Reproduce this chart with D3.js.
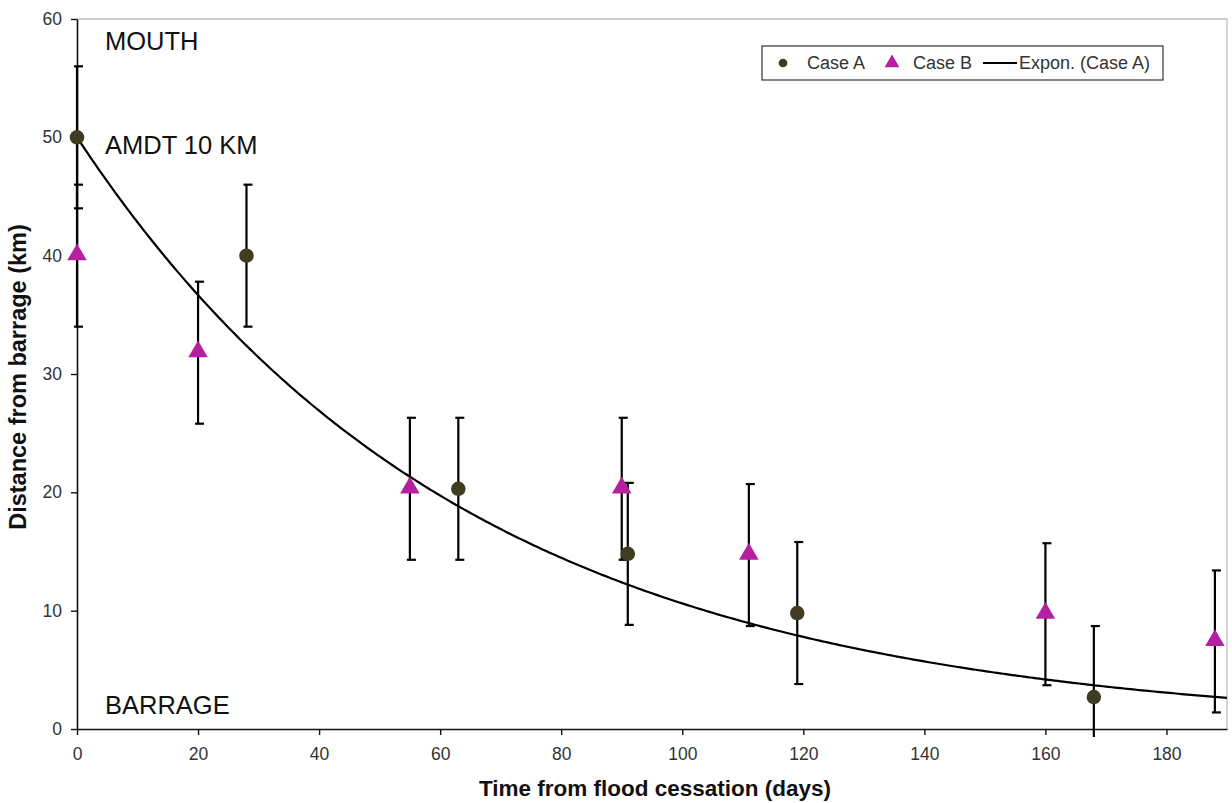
<!DOCTYPE html>
<html>
<head>
<meta charset="UTF-8">
<title>Distance from barrage</title>
<script src="https://cdn.jsdelivr.net/npm/d3@7"></script>
<style>
  body { margin: 0; background: #fff; }
  text { font-family: "Liberation Sans", Arial, sans-serif; }
</style>
</head>
<body>
<svg id="chart" width="1232" height="803"></svg>
<script>
// data
var caseAx = [0, 28, 63, 91, 119, 168];
var caseAy = [50, 40, 20.3, 14.8, 9.8, 2.7];
var caseBx = [0, 20, 55, 90, 111, 160, 188];
var caseBy = [40, 31.8, 20.3, 20.3, 14.7, 9.7, 7.4];
var errBar = 6;
// exponential trend of case A, y = a * exp(-b x)
var trendA = 50, trendB = 0.0155;
var xTicks = [0, 20, 40, 60, 80, 100, 120, 140, 160, 180];
var yTicks = [0, 10, 20, 30, 40, 50, 60];
var labels = [
  {text: "MOUTH", y: 57.4},
  {text: "AMDT 10 KM", y: 48.6},
  {text: "BARRAGE", y: 1.3}
];

var svg = d3.select("#chart");
var mLeft = 77, mRight = 1227, mTop = 19, mBottom = 729;

var x = d3.scaleLinear().domain([0, 190]).range([mLeft, mRight]);
var y = d3.scaleLinear().domain([0, 60]).range([mBottom, mTop]);

// plot frame (light top/right)
svg.append("line").attr("x1", mLeft).attr("x2", mRight).attr("y1", mTop).attr("y2", mTop)
  .attr("stroke", "#999").attr("stroke-width", 1.2);
svg.append("line").attr("x1", mRight).attr("x2", mRight).attr("y1", mTop).attr("y2", mBottom)
  .attr("stroke", "#bbb").attr("stroke-width", 1.2);

svg.append("clipPath").attr("id", "clip").append("rect")
  .attr("x", mLeft - 15).attr("y", mTop).attr("width", mRight - mLeft + 15).attr("height", mBottom - mTop + 8);

// axes
var xAxis = svg.append("g").attr("transform", "translate(0," + mBottom + ")")
  .call(d3.axisBottom(x).tickValues(xTicks).tickSize(6).tickSizeOuter(0));
var yAxis = svg.append("g").attr("transform", "translate(" + mLeft + ",0)")
  .call(d3.axisLeft(y).tickValues(yTicks).tickSize(6).tickSizeOuter(0));
[xAxis, yAxis].forEach(function(g) {
  g.select(".domain").attr("stroke", "#111").attr("stroke-width", 1.6);
  g.selectAll(".tick line").attr("stroke", "#111").attr("stroke-width", 1.4);
  g.selectAll(".tick text").attr("font-size", 17.5).attr("fill", "#333")
    .attr("font-family", "Liberation Sans, Arial, sans-serif");
});
xAxis.selectAll(".tick text").attr("dy", "1.25em");
yAxis.selectAll(".tick text").attr("x", -15);

// axis titles
svg.append("text").attr("x", 655).attr("y", 796)
  .attr("text-anchor", "middle").attr("font-size", 22.5).attr("font-weight", "bold").attr("fill", "#111")
  .text("Time from flood cessation (days)");
svg.append("text").attr("transform", "translate(26," + 377 + ") rotate(-90)")
  .attr("text-anchor", "middle").attr("font-size", 23.5).attr("font-weight", "bold").attr("fill", "#111")
  .text("Distance from barrage (km)");

// annotations
svg.selectAll(".note").data(labels).enter().append("text")
  .attr("x", 105).attr("y", function(d) { return y(d.y); })
  .attr("font-size", 25.5).attr("fill", "#111")
  .text(function(d) { return d.text; });

var plot = svg.append("g").attr("clip-path", "url(#clip)");

var ptsA = caseAx.map(function(v, i) { return {x: v, y: caseAy[i]}; });
var ptsB = caseBx.map(function(v, i) { return {x: v, y: caseBy[i]}; });

// error bars
function bars(pts) {
  var g = plot.append("g").attr("stroke", "#000").attr("stroke-width", 2.2);
  pts.forEach(function(p) {
    var xx = x(p.x);
    g.append("line").attr("x1", xx).attr("x2", xx).attr("y1", y(p.y - errBar)).attr("y2", y(p.y + errBar));
    [p.y - errBar, p.y + errBar].forEach(function(e) {
      g.append("line").attr("x1", xx - 3).attr("x2", xx + 6)
        .attr("y1", y(e)).attr("y2", y(e));
    });
  });
}
bars(ptsA);
bars(ptsB);

// trend line
var trend = d3.range(0, 190.5, 0.5).map(function(t) { return {x: t, y: trendA * Math.exp(-trendB * t)}; });
plot.append("path").datum(trend)
  .attr("fill", "none").attr("stroke", "#000").attr("stroke-width", 2.2)
  .attr("d", d3.line().x(function(d) { return x(d.x); }).y(function(d) { return y(d.y); }));

// markers
var colA = "#3f3c21", colB = "#b51fa0";
plot.selectAll(".ca").data(ptsA).enter().append("path")
  .attr("transform", function(d) { return "translate(" + x(d.x) + "," + y(d.y) + ")"; })
  .attr("d", d3.symbol().type(d3.symbolCircle).size(165))
  .attr("fill", colA);
plot.selectAll(".cb").data(ptsB).enter().append("path")
  .attr("transform", function(d) { return "translate(" + x(d.x) + "," + (y(d.y) - 1) + ")"; })
  .attr("d", d3.symbol().type(d3.symbolTriangle).size(165))
  .attr("fill", colB);

// legend
var lg = svg.append("g").attr("transform", "translate(762,46)");
lg.append("rect").attr("width", 401).attr("height", 34)
  .attr("fill", "#fff").attr("stroke", "#333").attr("stroke-width", 1.2);
lg.append("path").attr("transform", "translate(21,17)")
  .attr("d", d3.symbol().type(d3.symbolCircle).size(60)).attr("fill", colA);
lg.append("text").attr("x", 45).attr("y", 23).attr("font-size", 18).attr("fill", "#333").text("Case A");
lg.append("path").attr("transform", "translate(130,17)")
  .attr("d", d3.symbol().type(d3.symbolTriangle).size(95)).attr("fill", colB);
lg.append("text").attr("x", 151).attr("y", 23).attr("font-size", 18).attr("fill", "#333").text("Case B");
lg.append("line").attr("x1", 221).attr("x2", 255).attr("y1", 17).attr("y2", 17)
  .attr("stroke", "#000").attr("stroke-width", 2);
lg.append("text").attr("x", 257).attr("y", 23).attr("font-size", 18).attr("fill", "#333").text("Expon. (Case A)");
</script>
</body>
</html>
